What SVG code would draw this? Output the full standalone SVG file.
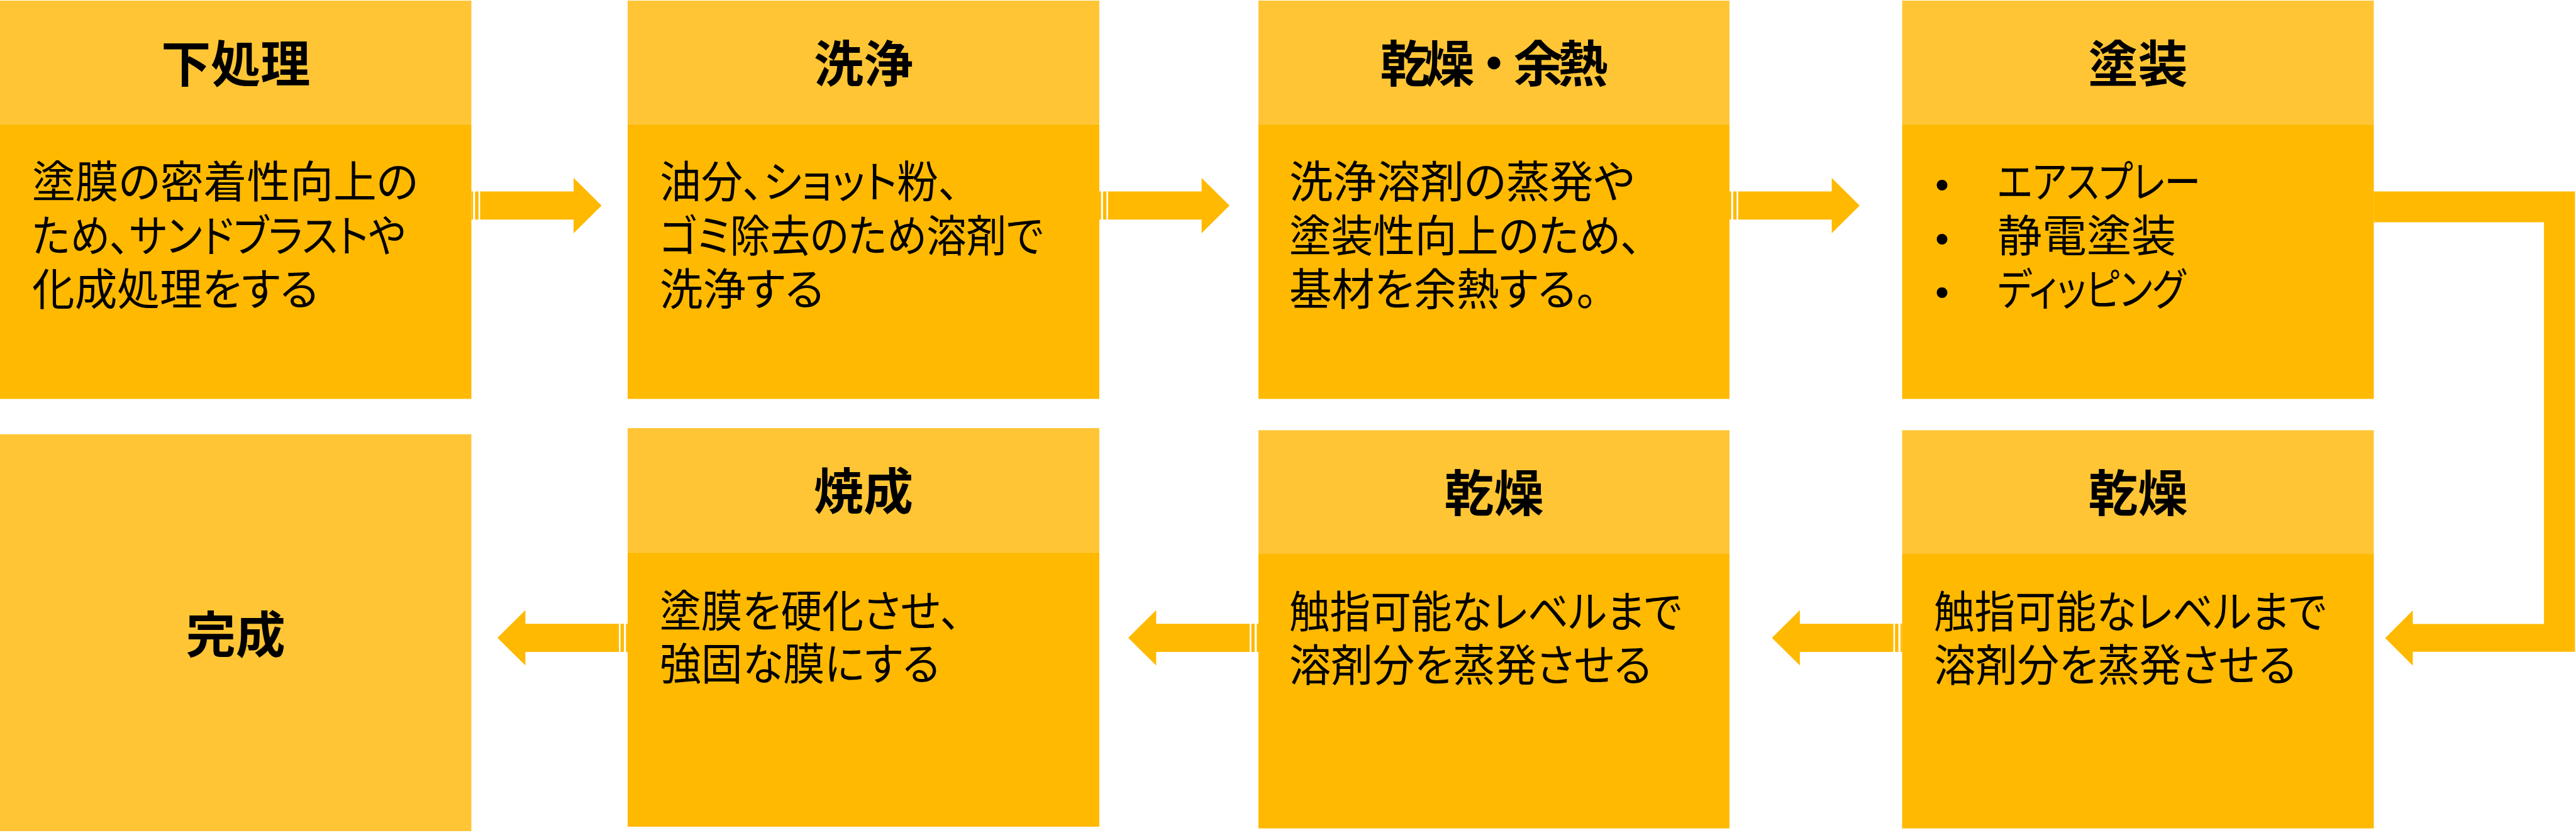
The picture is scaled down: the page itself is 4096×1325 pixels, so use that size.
<svg xmlns="http://www.w3.org/2000/svg" width="4096" height="1325" viewBox="0 0 4096 1325">
<style>
.hd{fill:#FFC535}
.bd{fill:#FFB900}
.ar{fill:#FFB900}
.ht{font-family:"Noto Sans CJK JP","Noto Sans CJK SC",sans-serif;font-weight:bold;font-size:79px;fill:#000;text-anchor:middle}
.tx{font-family:"Noto Sans CJK JP","Noto Sans CJK SC",sans-serif;font-size:70px;fill:#000;font-feature-settings:"palt" 1}
.bl{font-family:"Liberation Sans",Arial,sans-serif;font-size:63px;fill:#000;text-anchor:middle}
</style>
<defs>
<g id="arrowR">
<rect x="0" y="-22.4" width="2.7" height="44.8"/>
<rect x="5.9" y="-22.4" width="5.4" height="44.8"/>
<path d="M13.9,-22.4 H162.6 V-44 L207,0 L162.6,44 V22.4 H13.9 Z"/>
</g>
</defs>
<rect width="4096" height="1325" fill="#fff"/>

<g id="connectors" class="ar">
<use href="#arrowR" transform="translate(749.5,326.9)"/>
<use href="#arrowR" transform="translate(1748,326.9)"/>
<use href="#arrowR" transform="translate(2750,326.9)"/>
<path d="M3774.4,304.4 H4094.4 V1036.8 H3836.5 V1058.8 L3792.6,1014.9 L3836.5,971 V992.4 H4045.1 V353.6 H3774.4 Z"/>
<use href="#arrowR" transform="translate(3024.5,1014.6) scale(-1,1)"/>
<use href="#arrowR" transform="translate(2001,1014.6) scale(-1,1)"/>
<use href="#arrowR" transform="translate(998,1014.6) scale(-1,1)"/>
</g>

<g id="node-shitashori">
<rect class="hd" x="0" y="1" width="749.5" height="196.5"/>
<rect class="bd" x="0" y="197.5" width="749.5" height="437"/>
<text class="ht" x="374.8" y="130.5">下処理</text>
<text class="tx" x="51" y="315" textLength="614" lengthAdjust="spacingAndGlyphs">塗膜の密着性向上の</text>
<text class="tx" x="51" y="400.6" textLength="594" lengthAdjust="spacingAndGlyphs">ため、サンドブラストや</text>
<text class="tx" x="51" y="486.2" textLength="455" lengthAdjust="spacingAndGlyphs">化成処理をする</text>
</g>

<g id="node-senjo">
<rect class="hd" x="998" y="1" width="750" height="196.5"/>
<rect class="bd" x="998" y="197.5" width="750" height="437"/>
<text class="ht" x="1373" y="130.5">洗浄</text>
<text class="tx" x="1049" y="315" textLength="476" lengthAdjust="spacingAndGlyphs">油分、ショット粉、</text>
<text class="tx" x="1049" y="400.6" textLength="610" lengthAdjust="spacingAndGlyphs">ゴミ除去のため溶剤で</text>
<text class="tx" x="1049" y="486.2" textLength="261" lengthAdjust="spacingAndGlyphs">洗浄する</text>
</g>

<g id="node-kanso-yonetsu">
<rect class="hd" x="2001" y="1" width="749" height="196.5"/>
<rect class="bd" x="2001" y="197.5" width="749" height="437"/>
<text class="ht" x="2375.5" y="130.5" textLength="362" lengthAdjust="spacing">乾燥・余熱</text>
<text class="tx" x="2050" y="315" textLength="549" lengthAdjust="spacingAndGlyphs">洗浄溶剤の蒸発や</text>
<text class="tx" x="2050" y="400.6" textLength="560" lengthAdjust="spacingAndGlyphs">塗装性向上のため、</text>
<text class="tx" x="2050" y="486.2" textLength="490" lengthAdjust="spacingAndGlyphs">基材を余熱する。</text>
</g>

<g id="node-toso">
<rect class="hd" x="3024.5" y="1" width="750" height="196.5"/>
<rect class="bd" x="3024.5" y="197.5" width="750" height="437"/>
<text class="ht" x="3399.5" y="130.5">塗装</text>
<text class="bl" x="3088" y="315">•</text>
<text class="bl" x="3088" y="400.6">•</text>
<text class="bl" x="3088" y="486.2">•</text>
<text class="tx" x="3176" y="315" textLength="323" lengthAdjust="spacingAndGlyphs">エアスプレー</text>
<text class="tx" x="3176" y="400.6" textLength="284" lengthAdjust="spacingAndGlyphs">静電塗装</text>
<text class="tx" x="3176" y="486.2" textLength="299" lengthAdjust="spacingAndGlyphs">ディッピング</text>
</g>

<g id="node-kanso2">
<rect class="hd" x="3024.5" y="684.3" width="750" height="196.7"/>
<rect class="bd" x="3024.5" y="881" width="750" height="436.7"/>
<text class="ht" x="3399.5" y="813.7">乾燥</text>
<text class="tx" x="3075" y="998.5" textLength="624" lengthAdjust="spacingAndGlyphs">触指可能なレベルまで</text>
<text class="tx" x="3075" y="1084" textLength="576" lengthAdjust="spacingAndGlyphs">溶剤分を蒸発させる</text>
</g>

<g id="node-kanso1">
<rect class="hd" x="2001" y="684.3" width="749" height="196.7"/>
<rect class="bd" x="2001" y="881" width="749" height="436.7"/>
<text class="ht" x="2375.5" y="813.7">乾燥</text>
<text class="tx" x="2050" y="998.5" textLength="624" lengthAdjust="spacingAndGlyphs">触指可能なレベルまで</text>
<text class="tx" x="2050" y="1084" textLength="576" lengthAdjust="spacingAndGlyphs">溶剤分を蒸発させる</text>
</g>

<g id="node-shosei">
<rect class="hd" x="998" y="681" width="750" height="197.5"/>
<rect class="bd" x="998" y="878.5" width="750" height="436.5"/>
<text class="ht" x="1373" y="810.5">焼成</text>
<text class="tx" x="1049" y="997.8" textLength="479" lengthAdjust="spacingAndGlyphs">塗膜を硬化させ、</text>
<text class="tx" x="1049" y="1082.3" textLength="445" lengthAdjust="spacingAndGlyphs">強固な膜にする</text>
</g>

<g id="node-kansei">
<rect class="hd" x="0" y="690.7" width="749.5" height="631.3"/>
<text class="ht" x="374.8" y="1039">完成</text>
</g>
</svg>
